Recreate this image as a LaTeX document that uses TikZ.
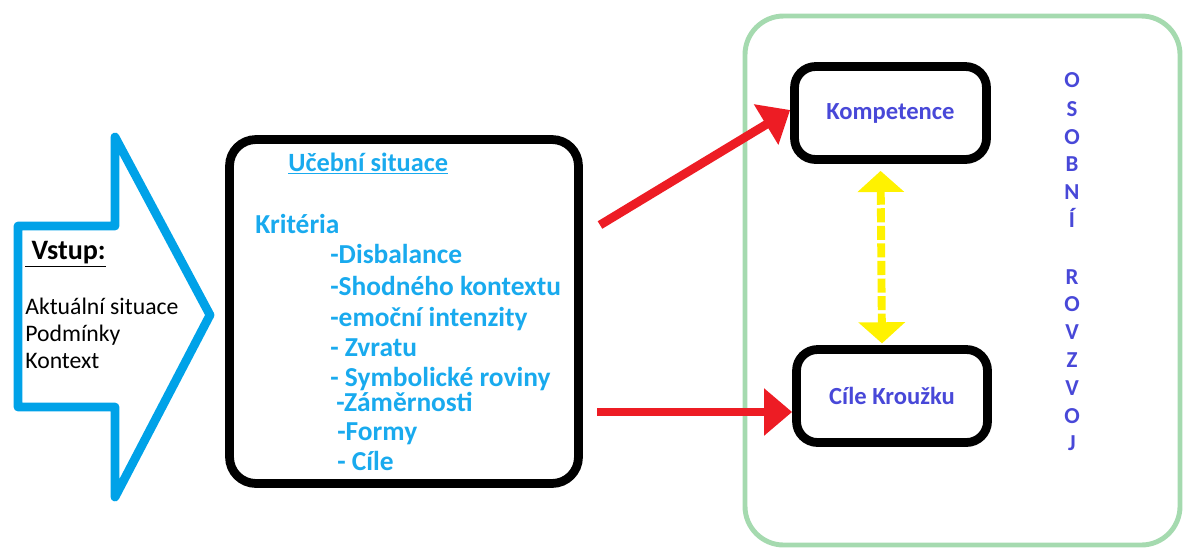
\documentclass[tikz,border=0pt]{standalone}
\usepackage{fontspec}
\setmainfont{Carlito}
\usetikzlibrary{arrows.meta}
\definecolor{arrowblue}{RGB}{0,162,232}
\definecolor{itemblue}{RGB}{25,170,238}
\definecolor{violetblue}{RGB}{72,72,216}
\definecolor{arrowred}{RGB}{237,28,36}
\definecolor{framegreen}{RGB}{165,218,175}
\definecolor{arrowyellow}{RGB}{255,242,0}
\begin{document}
\begin{tikzpicture}[x=0.02cm,y=-0.02cm,
    box/.style={draw=black,line width=5pt,rounded corners=12pt,inner sep=0pt},
    item/.style={anchor=base west,inner sep=0pt,text=itemblue,font=\fontsize{15.6}{18}\selectfont\bfseries},
    plain/.style={anchor=base west,inner sep=0pt,font=\fontsize{13.5}{15}\selectfont},
    letter/.style={anchor=base,inner sep=0pt,text=violetblue,font=\fontsize{13}{15}\selectfont\bfseries},
    redarrow/.style={draw=arrowred,line width=5pt,-{Triangle[length=16pt,width=26pt]}},
    yelarrow/.style={draw=arrowyellow,line width=4.5pt,dash pattern=on 8pt off 2pt,
      {Triangle[length=12pt,width=26pt]}-{Triangle[length=12pt,width=26pt]}}]
  \useasboundingbox (0,0) rectangle (1185,552);
  % input arrow
  \draw[arrowblue,line width=5pt,line join=round]
    (18,226) -- (115,226) -- (115,137) -- (210,315) -- (115,497)
    -- (115,407) -- (18,407) -- cycle;
  \node[plain,font=\fontsize{16}{18}\selectfont\bfseries] (vstup) at (25,259) {\underline{\ Vstup:}};
  \node[plain] (akt) at (25,314) {Aktuální situace};
  \node[plain] (podm) at (25,341) {Podmínky};
  \node[plain] (kont) at (25,368) {Kontext};
  % learning situation
  \node[box,rounded corners=15pt,minimum width=6.98cm,minimum height=6.88cm] (uceb) at (404,311.5) {};
  \node[item,font=\fontsize{15}{17}\selectfont\bfseries] (titul) at (288,171) {\underline{Učební situace}};
  \node[item] (krit) at (255,233) {Kritéria};
  \foreach \i/\x/\y/\t in {1/330/263/-Disbalance, 2/330/295/-Shodného kontextu,
      3/330/326/-emoční intenzity, 4/330/356/- Zvratu, 5/330/386/- Symbolické roviny,
      6/336/411/-Záměrnosti, 7/337/440/-Formy, 8/337/470/- Cíle}
    \node[item] (k\i) at (\x,\y) {\t};
  % personal development
  \draw[framegreen,line width=2.8pt,rounded corners=22pt] (745,16) rectangle (1180,545);
  \node[box,minimum width=3.84cm,minimum height=1.86cm,text=violetblue,
    font=\fontsize{14}{16}\selectfont\bfseries] (komp) at (890.5,113) {Kompetence};
  \node[box,minimum width=3.82cm,minimum height=1.86cm,text=violetblue,
    font=\fontsize{14}{16}\selectfont\bfseries] (cile) at (892,396) {Cíle Kroužku};
  \foreach \l/\y [count=\n] in {O/87, S/116, O/144, B/171, N/199, Í/227,
      R/284, O/311, V/339, Z/367, V/395, O/423, J/450}
    \node[letter] (os\n) at (1072,\y) {\l};
  % connectors
  \coordinate (r1) at (600,225);
  \coordinate (r2) at (597,412);
  \draw[redarrow] (r1) -- ([yshift=0.06cm]komp.west);
  \draw[redarrow] (r2) -- (r2 -| cile.west);
  \draw[yelarrow,shorten <=4pt,shorten >=1pt] ([xshift=-0.2cm]komp.south) -- ([xshift=-0.2cm]cile.north);
\end{tikzpicture}
\end{document}
